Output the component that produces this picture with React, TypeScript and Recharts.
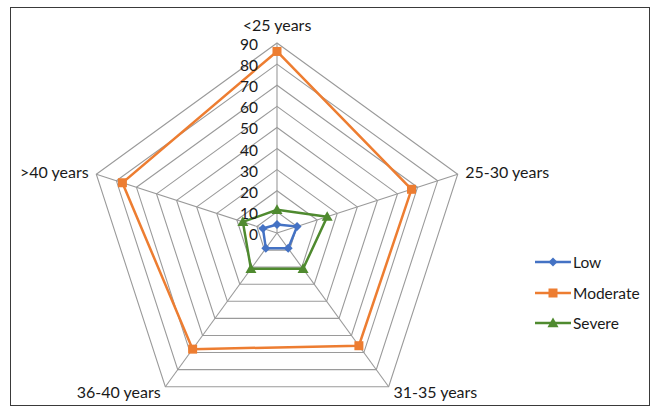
import React from "react";
import {
  RadarChart,
  Radar,
  PolarGrid,
  PolarAngleAxis,
  PolarRadiusAxis,
} from "recharts";

const AGE_GROUPS = ["<25 years", "25-30 years", "31-35 years", "36-40 years", ">40 years"];
const LOW = [4, 10, 9, 9, 7];
const MODERATE = [86, 67, 66, 68, 77];
const SEVERE = [11, 25, 21, 21, 17];
const RADIUS_TICKS = [0, 10, 20, 30, 40, 50, 60, 70, 80, 90];

type Shape = "diamond" | "square" | "triangle";

const SERIES: { key: string; name: string; color: string; shape: Shape; values: number[] }[] = [
  { key: "low", name: "Low", color: "#4472C4", shape: "diamond", values: LOW },
  { key: "moderate", name: "Moderate", color: "#ED7D31", shape: "square", values: MODERATE },
  { key: "severe", name: "Severe", color: "#4F8A2F", shape: "triangle", values: SEVERE },
];

const data = AGE_GROUPS.map((group, i) => {
  const row: Record<string, string | number> = { group };
  SERIES.forEach((s) => {
    row[s.key] = s.values[i];
  });
  return row;
});

const FONT = "Lato, 'Open Sans', sans-serif";
const TEXT = "#1a1a1a";

function Marker({ x, y, shape, color }: { x: number; y: number; shape: Shape; color: string }) {
  if (shape === "diamond") {
    const r = 4.5;
    return <polygon points={`${x},${y - r} ${x + r},${y} ${x},${y + r} ${x - r},${y}`} fill={color} />;
  }
  if (shape === "square") {
    return <rect x={x - 4.5} y={y - 4.5} width={9} height={9} fill={color} />;
  }
  const r = 5.5;
  return <polygon points={`${x},${y - r} ${x + r},${y + r * 0.75} ${x - r},${y + r * 0.75}`} fill={color} />;
}

function AngleTick(props: any) {
  const { x, y, payload, textAnchor } = props;
  const top = Math.abs(x - 277) < 2;
  const bottom = y > 300;
  return (
    <text
      x={x}
      y={top ? y - 11 : bottom ? y - 2 : y}
      textAnchor={textAnchor}
      dominantBaseline="central"
      fontSize={16}
      fontFamily={FONT}
      fill={TEXT}
    >
      {payload.value}
    </text>
  );
}

function RadiusTick(props: any) {
  const { x, y, payload } = props;
  return (
    <text
      x={x - 19}
      y={y + 1}
      textAnchor="end"
      dominantBaseline="central"
      fontSize={15.5}
      fontFamily={FONT}
      fill={TEXT}
    >
      {payload.value}
    </text>
  );
}

function LegendBox() {
  return (
    <div style={{ position: "absolute", left: 534, top: 247, fontFamily: FONT, fontSize: 15.5, color: TEXT }}>
      {SERIES.map((s) => (
        <div key={s.key} style={{ display: "flex", alignItems: "center", height: 30.5 }}>
          <svg width={38} height={14}>
            <line x1={1} y1={7} x2={37} y2={7} stroke={s.color} strokeWidth={2.5} />
            <Marker x={19} y={7} shape={s.shape} color={s.color} />
          </svg>
          <span style={{ marginLeft: 1 }}>{s.name}</span>
        </div>
      ))}
    </div>
  );
}

export default function App() {
  return (
    <div style={{ position: "absolute", left: 0, top: 0, width: 657, height: 411, background: "#fff" }}>
      <div
        style={{
          position: "absolute",
          left: 10,
          top: 7,
          width: 638,
          height: 397,
          border: "1.5px solid #3a3a3a",
        }}
      />
      <RadarChart
        width={657}
        height={411}
        data={data}
        cx={277}
        cy={233}
        outerRadius={190}
        margin={{ top: 0, right: 0, bottom: 0, left: 0 }}
        style={{ position: "absolute", left: 0, top: 0 }}
      >
        <PolarGrid gridType="polygon" stroke="#9a9a9a" strokeWidth={1.1} />
        <PolarAngleAxis dataKey="group" tick={<AngleTick />} axisLine={false} tickLine={false} />
        <PolarRadiusAxis
          angle={90}
          domain={[0, 90]}
          ticks={RADIUS_TICKS}
          tick={<RadiusTick />}
          axisLine={false}
          tickLine={false}
        />
        {SERIES.map((s) => (
          <Radar
            key={s.key}
            name={s.name}
            dataKey={s.key}
            stroke={s.color}
            strokeWidth={2.5}
            fill="none"
            fillOpacity={0}
            isAnimationActive={false}
            dot={(p: any) => (
              <Marker key={`${s.key}-${p.index}`} x={p.cx} y={p.cy} shape={s.shape} color={s.color} />
            )}
          />
        ))}
      </RadarChart>
      <LegendBox />
    </div>
  );
}
